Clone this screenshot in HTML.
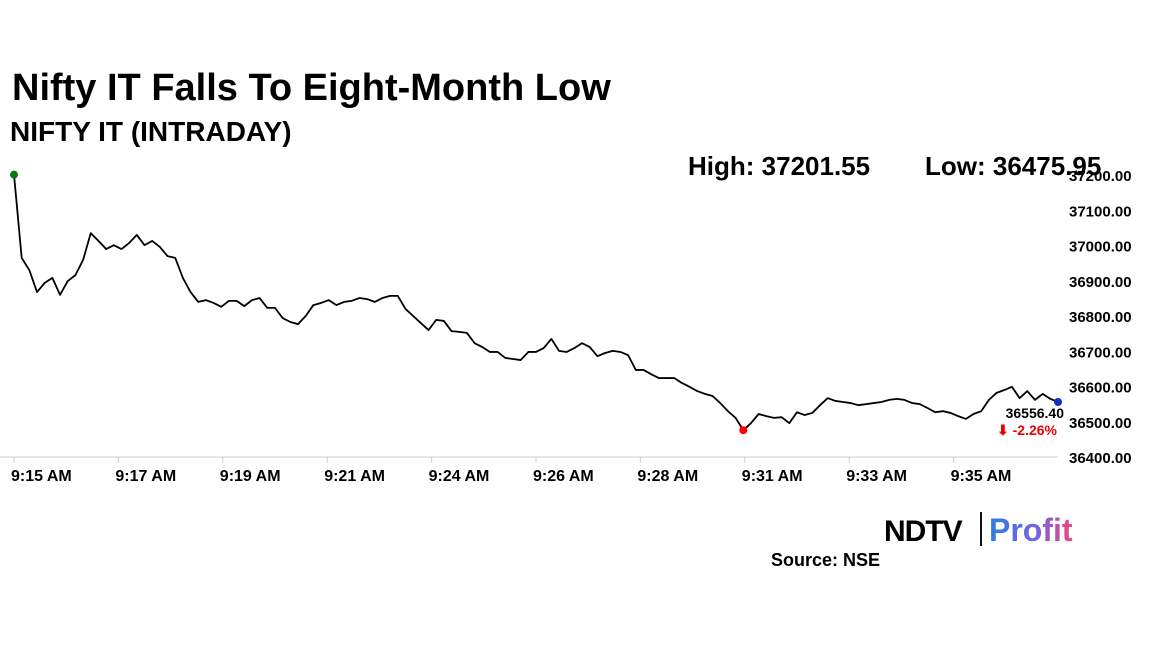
<!DOCTYPE html>
<html><head><meta charset="utf-8"><style>
body{margin:0;background:#fff;width:1152px;height:648px;overflow:hidden;font-family:"Liberation Sans",Arial,sans-serif}
svg text{font-family:"Liberation Sans",Arial,sans-serif}
</style></head><body>
<svg width="1152" height="648">
<text x="12" y="100" font-size="38" font-weight="bold">Nifty IT Falls To Eight-Month Low</text>
<text x="10" y="141" font-size="28" font-weight="bold">NIFTY IT (INTRADAY)</text>
<text x="688" y="175" font-size="26" font-weight="bold">High: 37201.55</text>
<text x="925" y="175" font-size="26" font-weight="bold">Low: 36475.95</text>
<line x1="0" y1="457" x2="1058" y2="457" stroke="#ddd" stroke-width="1.5"/>
<g id="yax"></g><g id="xax"></g>
<polyline id="line" fill="none" stroke="#000" stroke-width="1.8" stroke-linejoin="round"/>
<rect x="999" y="403" width="67" height="36" fill="#fff"/>
<text x="1064" y="418" font-size="14" font-weight="bold" text-anchor="end">36556.40</text>
<text x="1057" y="435" font-size="14" font-weight="bold" fill="#e00" text-anchor="end">⬇ -2.26%</text>
<g id="dots"></g>
<g>
<text x="884" y="541" font-size="30" font-weight="900" letter-spacing="-1">NDTV</text>
<line x1="981" y1="512" x2="981" y2="546" stroke="#111" stroke-width="2"/>
<defs><linearGradient id="pg" x1="0" x2="1"><stop offset="0" stop-color="#2a7fe0"/><stop offset="0.6" stop-color="#7a62e0"/><stop offset="1" stop-color="#f0457a"/></linearGradient></defs>
<text x="989" y="541" font-size="32" font-weight="bold" fill="url(#pg)">Profit</text>
</g>
<text x="771" y="566" font-size="18" font-weight="bold">Source: NSE</text>
</svg>
<script>
const yTicks=[37200,37100,37000,36900,36800,36700,36600,36500,36400];
const xTickLabels=["9:15 AM","9:17 AM","9:19 AM","9:21 AM","9:24 AM","9:26 AM","9:28 AM","9:31 AM","9:33 AM","9:35 AM"];
const values=[37201,36965,36930,36868,36894,36908,36860,36899,36916,36959,37035,37013,36990,37001,36990,37007,37030,37001,37013,36996,36970,36965,36908,36868,36840,36845,36837,36826,36843,36843,36828,36845,36851,36823,36823,36794,36783,36777,36800,36831,36837,36845,36831,36840,36843,36851,36848,36840,36851,36857,36857,36820,36800,36780,36760,36789,36786,36757,36755,36752,36723,36712,36698,36698,36681,36678,36675,36698,36698,36709,36735,36701,36698,36709,36723,36712,36686,36695,36701,36698,36689,36647,36647,36635,36624,36624,36624,36610,36599,36587,36579,36573,36553,36530,36511,36476,36496,36522,36516,36511,36513,36496,36527,36519,36525,36547,36567,36559,36556,36553,36547,36550,36553,36556,36562,36565,36562,36553,36550,36539,36527,36530,36525,36516,36508,36522,36530,36562,36582,36590,36599,36567,36587,36562,36579,36565,36556];
const NS="http://www.w3.org/2000/svg";
const y=v=>175+(37200-v)*282/800;
const x=i=>14+i*1044/(values.length-1);
const yax=document.getElementById('yax');
yTicks.forEach(t=>{const e=document.createElementNS(NS,'text');e.setAttribute('x',1069);e.setAttribute('y',y(t)+6);e.setAttribute('font-size','15');e.setAttribute('font-weight','bold');e.textContent=t.toFixed(2);


yax.appendChild(e);});
const xax=document.getElementById('xax');
xTickLabels.forEach((l,k)=>{const tx=14+104.4*k;const ln=document.createElementNS(NS,'line');ln.setAttribute('x1',tx);ln.setAttribute('x2',tx);ln.setAttribute('y1',457);ln.setAttribute('y2',463);ln.setAttribute('stroke','#ccc');


xax.appendChild(ln);
const e=document.createElementNS(NS,'text');e.setAttribute('x',tx-3);e.setAttribute('y',481);e.setAttribute('font-size','16');e.setAttribute('font-weight','bold');e.textContent=l;


xax.appendChild(e);});
document.getElementById('line').setAttribute('points',values.map((v,i)=>x(i)+','+y(v)).join(' '));
const dots=document.getElementById('dots');
function dot(i,c,name){const d=document.createElementNS(NS,'circle');d.setAttribute('cx',x(i));d.setAttribute('cy',y(values[i]));d.setAttribute('r',4);d.setAttribute('fill',c);


dots.appendChild(d);}
let mi=0;values.forEach((v,i)=>{if(v<values[mi])mi=i;});
dot(0,'#0a7a0a','high-marker');dot(mi,'#f00','low-marker');dot(values.length-1,'#1030c0','last-marker');
</script>
</body></html>
